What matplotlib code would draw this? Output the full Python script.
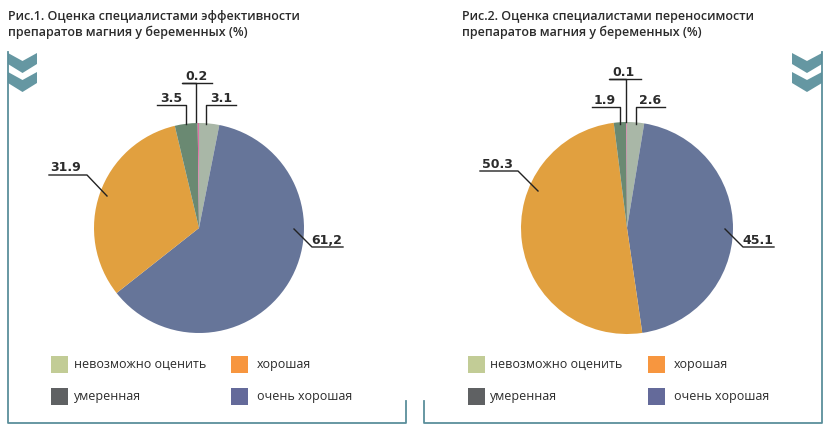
import matplotlib
matplotlib.use("Agg")
import matplotlib.pyplot as plt
from matplotlib.patches import Polygon, Rectangle

W, H = 834, 433

# ---- data ----
categories = ["невозможно оценить", "очень хорошая", "хорошая", "умеренная", "нет данных"]
eff_values = [3.1, 61.2, 31.9, 3.5, 0.2]
eff_labels = ["3.1", "61,2", "31.9", "3.5", "0.2"]
tol_values = [2.6, 45.1, 50.3, 1.9, 0.1]
tol_labels = ["2.6", "45.1", "50.3", "1.9", "0.1"]
titles = ["Рис.1. Оценка специалистами эффективности\nпрепаратов магния у беременных (%)",
          "Рис.2. Оценка специалистами переносимости\nпрепаратов магния у беременных (%)"]
legend_labels = ["невозможно оценить", "хорошая", "умеренная", "очень хорошая"]

pie_colors = ["#a9b7a7", "#667599", "#e1a03f", "#6a8972", "#de6fa5"]
legend_colors = ["#c2cc96", "#f7963f", "#5f6163", "#646a9a"]
frame_c = "#5b8f9b"
chev_c = "#6597a2"
txt_c = "#2b2b2b"

fig = plt.figure(figsize=(W / 100, H / 100), dpi=100)
ax = fig.add_axes([0, 0, 1, 1])
ax.set_xlim(0, W)
ax.set_ylim(0, H)
ax.set_aspect("equal")
ax.axis("off")


def P(x, y):
    return (x, H - y)


def chevrons(x0, x1, y0):
    xm = (x0 + x1) / 2
    for k in range(2):
        t = y0 + k * 19
        pts = [P(x0, t), P(xm, t + 8), P(x1, t), P(x1, t + 11), P(xm, t + 20), P(x0, t + 11)]
        ax.add_patch(Polygon(pts, closed=True, color=chev_c, lw=0))


def frame(xl, xr, side):
    lw = 1.3
    if side == "left":
        ax.plot(*zip(P(xl, 52), P(xl, 423), P(xr, 423), P(xr, 401)), color=frame_c, lw=lw)
    else:
        ax.plot(*zip(P(xl, 401), P(xl, 423), P(xr, 423), P(xr, 52)), color=frame_c, lw=lw)


def draw_pie(values, labels, center, radius, layout):
    ax.pie(values, colors=pie_colors, startangle=90, counterclock=False,
           center=P(*center), radius=radius, wedgeprops=dict(linewidth=0),
           normalize=True)
    for lab, (lines, tpos, ha) in zip(labels, layout):
        ax.plot(*zip(*[P(*p) for p in lines]), color="#222222", lw=1.0)
        ax.text(*P(*tpos), lab, fontsize=9, fontweight="bold", family="DejaVu Sans",
                color=txt_c, ha=ha, va="baseline")


# layout: (leader polyline, text position, ha) in pixel coords
layout1 = [
    ([(206, 124), (206, 105), (236, 105)], (221, 102), "center"),   # 3.1
    ([(294, 229), (312, 247), (343, 247)], (327, 244), "center"),   # 61,2
    ([(107, 196), (87, 175), (49, 175)], (66, 171), "center"),      # 31.9
    ([(186, 124), (186, 105), (157, 105)], (171, 102), "center"),   # 3.5
    ([(196.5, 122), (196.5, 83), (182, 83), (212, 83)], (197, 80), "center"),  # 0.2
]
layout2 = [
    ([(636, 124), (636, 107), (665, 107)], (650, 104), "center"),   # 2.6
    ([(725, 229), (743, 247), (774, 247)], (758, 244), "center"),   # 45.1
    ([(538, 191), (518, 171), (480, 171)], (497, 168), "center"),   # 50.3
    ([(620, 124), (620, 107), (592, 107)], (605, 104), "center"),   # 1.9
    ([(626, 122), (626, 79), (609, 79), (641, 79)], (624, 76), "center"),  # 0.1
]

frame(8, 406, "left")
frame(424, 822, "right")
chevrons(8, 37, 53)
chevrons(792, 822, 53)

draw_pie(eff_values, eff_labels, (199, 228), 105, layout1)
draw_pie(tol_values, tol_labels, (627, 228), 106, layout2)

ax.set_xlim(0, W)
ax.set_ylim(0, H)

for t, x in zip(titles, [8, 462]):
    ax.text(*P(x, 10), t, fontsize=9, fontweight="semibold", family="Open Sans",
            color=txt_c, ha="left", va="top", linespacing=1.3)


def legend(sq_x, txt_x):
    rows = [(356, 0), (356, 1), (388, 2), (388, 3)]
    for (y, i) in rows:
        col = i % 2
        ax.add_patch(Rectangle(P(sq_x[col], y + 17), 17, 17, color=legend_colors[i], lw=0))
        ax.text(*P(txt_x[col], y + 8.5), legend_labels[i], fontsize=9, family="Open Sans",
                color=txt_c, ha="left", va="center")


legend((51, 231), (74, 257))
legend((468, 648), (490, 674))

fig.savefig("out.png", dpi=100)
